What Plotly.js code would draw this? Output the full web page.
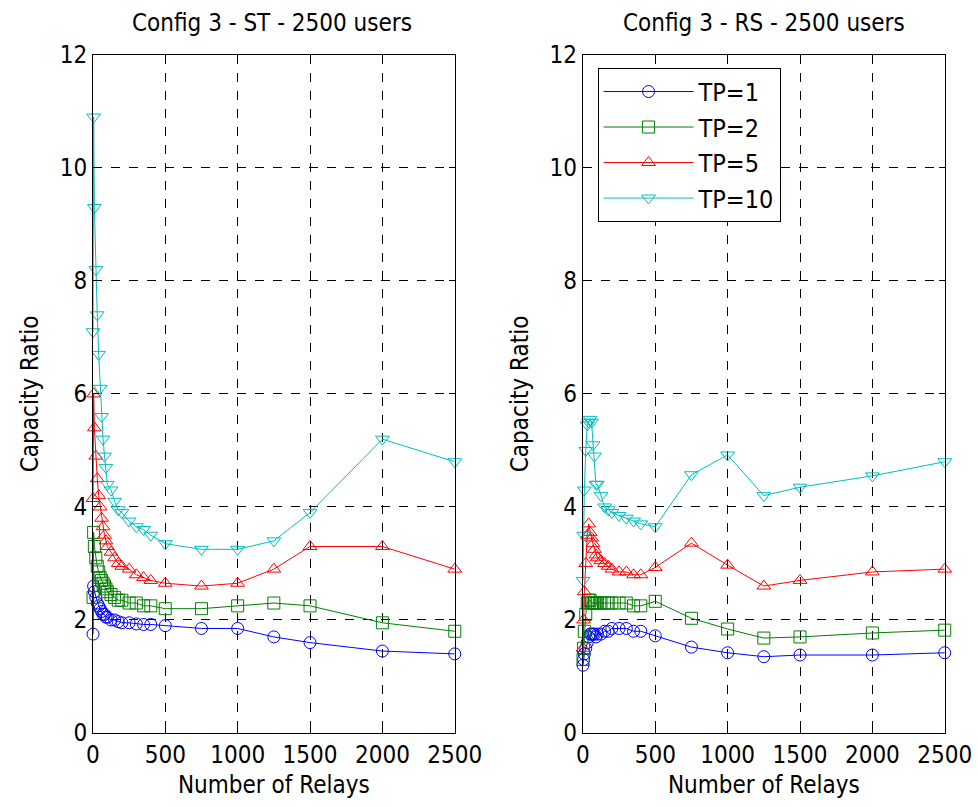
<!DOCTYPE html>
<html>
<head>
<meta charset="utf-8">
<script src="https://cdn.plot.ly/plotly-3.0.1.min.js"></script>
<style>html,body{margin:0;padding:0;background:#fff;}#chart{width:978px;height:807px;}</style>
</head>
<body>
<div id="chart"></div>
<script>
// Number of relays (x values shared by every series)
const relays = [1, 5, 10, 20, 30, 40, 50, 60, 70, 80, 90, 100, 125, 150, 175, 200, 250, 300, 350, 400, 500, 750, 1000, 1250, 1500, 2000, 2500];

// Left panel: Config 3 - ST - 2500 users
const st_tp1  = [1.75, 2.6, 2.5, 2.4, 2.3, 2.25, 2.2, 2.15, 2.1, 2.1, 2.05, 2.05, 2.0, 2.0, 1.97, 1.95, 1.95, 1.93, 1.92, 1.92, 1.9, 1.85, 1.85, 1.7, 1.6, 1.45, 1.4];
const st_tp2  = [2.4, 3.55, 3.3, 3.1, 2.95, 2.85, 2.75, 2.7, 2.65, 2.6, 2.55, 2.5, 2.45, 2.4, 2.35, 2.35, 2.3, 2.3, 2.25, 2.25, 2.2, 2.2, 2.25, 2.3, 2.25, 1.95, 1.8];
const st_tp5  = [4.15, 6.0, 5.4, 4.9, 4.5, 4.2, 4.0, 3.8, 3.65, 3.5, 3.4, 3.3, 3.2, 3.1, 3.0, 2.95, 2.9, 2.8, 2.75, 2.7, 2.65, 2.6, 2.65, 2.9, 3.3, 3.3, 2.9];
const st_tp10 = [7.1, 10.9, 9.3, 8.2, 7.4, 6.7, 6.1, 5.6, 5.2, 4.9, 4.7, 4.4, 4.3, 4.1, 3.95, 3.9, 3.75, 3.65, 3.6, 3.5, 3.35, 3.25, 3.25, 3.4, 3.9, 5.2, 4.8];

// Right panel: Config 3 - RS - 2500 users
const rs_tp1  = [1.2, 1.3, 1.4, 1.5, 1.6, 1.7, 1.75, 1.75, 1.75, 1.75, 1.7, 1.75, 1.75, 1.8, 1.8, 1.85, 1.85, 1.85, 1.8, 1.8, 1.72, 1.52, 1.42, 1.35, 1.38, 1.38, 1.42];
const rs_tp2  = [1.3, 1.5, 1.8, 2.1, 2.3, 2.35, 2.35, 2.3, 2.3, 2.3, 2.3, 2.3, 2.3, 2.3, 2.3, 2.3, 2.3, 2.3, 2.25, 2.25, 2.33, 2.03, 1.84, 1.68, 1.7, 1.77, 1.82];
const rs_tp5  = [1.5, 2.0, 2.5, 3.0, 3.5, 3.7, 3.55, 3.45, 3.35, 3.25, 3.15, 3.1, 3.05, 3.0, 2.95, 2.9, 2.85, 2.85, 2.8, 2.8, 2.93, 3.36, 2.97, 2.6, 2.7, 2.85, 2.9];
const rs_tp10 = [2.7, 3.5, 4.3, 5.0, 5.45, 5.5, 5.55, 5.5, 5.1, 4.9, 4.4, 4.4, 4.2, 4.0, 3.95, 3.9, 3.85, 3.8, 3.75, 3.7, 3.65, 4.57, 4.92, 4.2, 4.35, 4.55, 4.8];

const seriesNames = ['TP=1', 'TP=2', 'TP=5', 'TP=10'];
const colors = ['#0000ff', '#008000', '#ff0000', '#00bfbf'];
const symbols = ['circle-open', 'square-open', 'triangle-up-open', 'triangle-down-open'];

const xTicks = [0, 500, 1000, 1500, 2000, 2500];
const yTicks = [0, 2, 4, 6, 8, 10, 12];

const FONT = 'DejaVu Sans Condensed, Liberation Sans Narrow, Liberation Sans, Arial, sans-serif';
const FS = 24;

function mk(y, i, xa, ya, showLeg) {
  return {
    x: relays, y: y, xaxis: xa, yaxis: ya,
    type: 'scatter', mode: 'lines+markers',
    name: seriesNames[i], showlegend: showLeg,
    cliponaxis: false,
    line: {color: colors[i], width: 1},
    marker: {symbol: symbols[i], size: 12, color: colors[i], line: {color: colors[i], width: 1}}
  };
}

const stSets = [st_tp1, st_tp2, st_tp5, st_tp10];
const rsSets = [rs_tp1, rs_tp2, rs_tp5, rs_tp10];
const data = [];
stSets.forEach((s, i) => data.push(mk(s, i, 'x', 'y', false)));
rsSets.forEach((s, i) => data.push(mk(s, i, 'x2', 'y2', true)));

function xax(domain, anchor) {
  return {
    domain: domain, anchor: anchor, range: [0, 2500],
    tickvals: xTicks, ticktext: xTicks.map(String),
    ticks: 'inside', ticklen: 6, tickcolor: '#000',
    showline: true, linecolor: '#000', linewidth: 1, mirror: 'ticks',
    showgrid: true, gridcolor: '#000', gridwidth: 1, griddash: 'dash',
    zeroline: false,
    tickfont: {family: FONT, size: FS, color: '#000'},
    title: {text: 'Number of Relays', font: {family: FONT, size: FS, color: '#000'}, standoff: 8}
  };
}
function yax(anchor) {
  return {
    domain: [0.0917, 0.932], anchor: anchor, range: [0, 12],
    tickvals: yTicks, ticktext: yTicks.map(String),
    ticks: 'inside', ticklen: 6, tickcolor: '#000',
    showline: true, linecolor: '#000', linewidth: 1, mirror: 'ticks',
    showgrid: true, gridcolor: '#000', gridwidth: 1, griddash: 'dash',
    zeroline: false,
    tickfont: {family: FONT, size: FS, color: '#000'},
    title: {text: 'Capacity Ratio', font: {family: FONT, size: FS, color: '#000'}, standoff: 14}
  };
}

const layout = {
  width: 978, height: 807,
  margin: {l: 0, r: 0, t: 0, b: 0},
  paper_bgcolor: '#fff', plot_bgcolor: '#fff',
  font: {family: FONT, color: '#000'},
  showlegend: true,
  xaxis: xax([0.095, 0.465], 'y'),
  yaxis: yax('x'),
  xaxis2: xax([0.596, 0.966], 'y2'),
  yaxis2: yax('x2'),
  legend: {
    x: 0.611, y: 0.916, xanchor: 'left', yanchor: 'top',
    bgcolor: '#fff', bordercolor: '#000', borderwidth: 1,
    font: {family: FONT, size: 25, color: '#000'},
    itemwidth: 90, tracegroupgap: 0
  },
  annotations: [
    {text: 'Config 3 - ST - 2500 users', xref: 'paper', yref: 'paper', x: 0.278, y: 0.972,
     xanchor: 'center', yanchor: 'middle', showarrow: false, font: {family: FONT, size: FS, color: '#000'}},
    {text: 'Config 3 - RS - 2500 users', xref: 'paper', yref: 'paper', x: 0.781, y: 0.972,
     xanchor: 'center', yanchor: 'middle', showarrow: false, font: {family: FONT, size: FS, color: '#000'}}
  ]
};

Plotly.newPlot('chart', data, layout, {displayModeBar: false, staticPlot: true});
</script>
</body>
</html>
